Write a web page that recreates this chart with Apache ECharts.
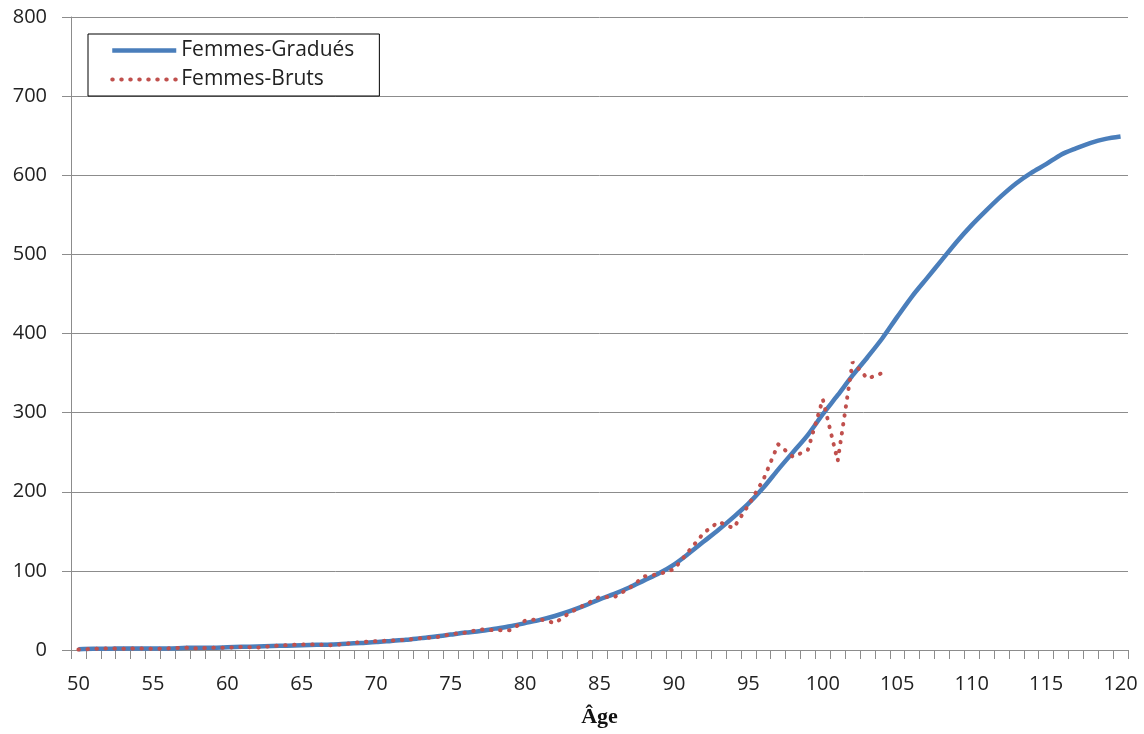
<!DOCTYPE html>
<html>
<head>
<meta charset="utf-8">
<title>Femmes - taux gradués et bruts</title>
<script src="https://cdn.jsdelivr.net/npm/echarts@6/dist/echarts.min.js"></script>
<style>
  html, body { margin: 0; padding: 0; background: #fff; }
  #lineChart { width: 1144px; height: 734px; }
</style>
</head>
<body>
<div id="lineChart"></div>
<script>
// Courbe femmes : gradués vs bruts
var ages = [
  '50', '51', '52', '53', '54', '55', '56', '57', '58', '59',
  '60', '61', '62', '63', '64', '65', '66', '67', '68', '69',
  '70', '71', '72', '73', '74', '75', '76', '77', '78', '79',
  '80', '81', '82', '83', '84', '85', '86', '87', '88', '89',
  '90', '91', '92', '93', '94', '95', '96', '97', '98', '99',
  '100', '101', '102', '103', '104', '105', '106', '107', '108', '109',
  '110', '111', '112', '113', '114', '115', '116', '117', '118', '119',
  '120'
]

// valeurs graduées (50 -> 120)
var gradues = [
  1, 1.5, 1.5, 2, 2, 2, 2, 2.5, 3, 3,
  3.5, 4, 4.5, 5, 5.5, 6, 6.5, 7, 8, 9,
  10, 11.5, 13, 15, 17, 19.5, 22, 24, 27, 30,
  34, 38, 43, 49, 56, 64, 71, 79, 88, 97,
  108, 122, 137, 152, 168, 185, 205, 228, 250, 272,
  298, 322, 347, 370, 394, 421, 447, 470, 493, 516,
  537, 556, 574, 590, 603, 614, 626, 634, 641, 646,
  649
]

// valeurs brutes (50 -> 104)
var bruts = [
  0.5, 1.5, 2, 1.5, 2, 1.5, 2, 3, 2, 3,
  3, 4, 3, 5, 6, 7, 7, 6, 8, 10,
  11, 12, 13, 15, 16, 20, 22, 26, 25, 25,
  37, 39, 34, 47, 57, 67, 67, 78, 93, 96,
  102, 125, 148, 162, 154, 183, 215, 260, 244, 253,
  317, 239, 364, 343, 350
]

var yTicks = [0, 100, 200, 300, 400, 500, 600, 700, 800]

var chartDom = document.getElementById('lineChart')
var chart = echarts.init(chartDom)

var gridColor = '#8c8c8c'
var labelFont = "'Open Sans', 'Liberation Sans', sans-serif"
var blueStyle = { width: 4.5, color: '#4a7ebb' }
var redStyle = { width: 4, color: '#c0504d', type: [0.5, 8.5], cap: 'round' }

function getOption() {
  return {
    animation: false,
    color: ['#4a7ebb', '#c0504d'],
    grid: {
      left: 71,
      right: 16,
      top: 17,
      bottom: 84,
      outerBoundsMode: 'none',
      containLabel: false
    },
    legend: {
      orient: 'vertical',
      left: 88,
      top: 34,
      padding: [6, 25, 6, 22],
      itemWidth: 64,
      itemHeight: 14,
      itemGap: 8,
      borderColor: '#000',
      borderWidth: 1,
      // pas de symbole dans la légende, seulement le trait
      itemStyle: { color: 'transparent', borderWidth: 0 },
      textStyle: {
        color: '#222',
        fontSize: 21,
        lineHeight: 20,
        fontFamily: labelFont
      },
      data: [
        { name: 'Femmes-Gradués', lineStyle: blueStyle },
        { name: 'Femmes-Bruts', lineStyle: redStyle }
      ]
    },
    xAxis: {
      type: 'category',
      boundaryGap: true,
      data: ages,
      name: 'Âge',
      nameLocation: 'middle',
      nameGap: 56,
      nameTextStyle: {
        fontFamily: "'Liberation Serif', serif",
        fontWeight: 'bold',
        fontSize: 22,
        color: '#111'
      },
      axisLine: { lineStyle: { color: gridColor, width: 1 } },
      axisTick: {
        show: true,
        interval: 0,
        length: 9,
        lineStyle: { color: gridColor }
      },
      axisLabel: {
        interval: 4,
        margin: 24,
        fontSize: 20,
        color: '#222',
        fontFamily: labelFont
      },
      splitLine: { show: false }
    },
    yAxis: {
      type: 'value',
      min: yTicks[0],
      max: yTicks[yTicks.length - 1],
      interval: 100,
      axisLine: { show: true, lineStyle: { color: gridColor, width: 1 } },
      axisTick: {
        show: true,
        inside: false,
        length: 9,
        lineStyle: { color: gridColor }
      },
      axisLabel: {
        margin: 24,
        fontSize: 20,
        color: '#222',
        fontFamily: labelFont
      },
      splitLine: {
        show: true,
        lineStyle: { color: gridColor, width: 1 }
      }
    },
    series: [
      {
        name: 'Femmes-Gradués',
        type: 'line',
        data: gradues,
        symbol: 'none',
        smooth: 0.3,
        z: 2,
        lineStyle: blueStyle
      },
      {
        name: 'Femmes-Bruts',
        type: 'line',
        data: bruts,
        symbol: 'none',
        z: 3,
        lineStyle: redStyle
      }
    ]
  }
}

chart.setOption(getOption())
</script>
</body>
</html>
